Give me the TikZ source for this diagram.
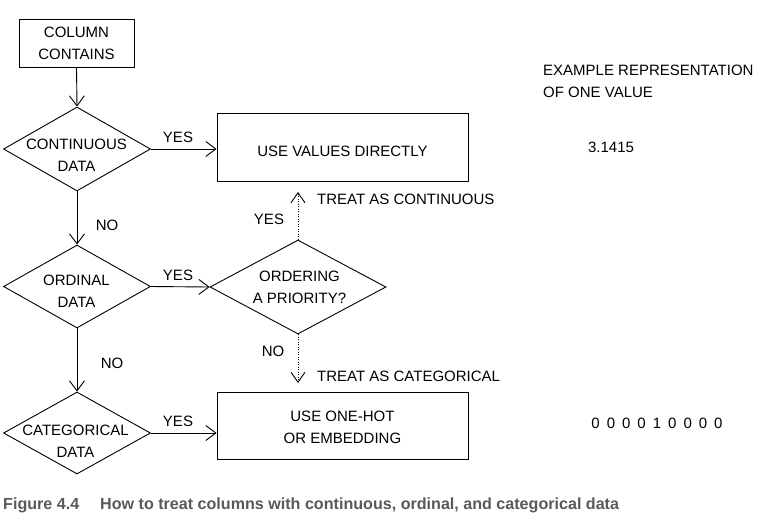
\documentclass[tikz,border=0pt]{standalone}
\usepackage{fontspec}
\setmainfont{Liberation Sans}
\usetikzlibrary{shapes.geometric,arrows.meta,calc}
\definecolor{capgray}{HTML}{58595B}
\newcommand{\zgap}{\hspace{7pt}}
\begin{document}
\begin{tikzpicture}[x=1pt,y=-1pt,
  hand/.style={font=\fontsize{15}{22}\selectfont, inner sep=0pt, align=center, text=black},
  boxnode/.style={draw, line width=0.9pt, inner sep=0pt},
  dnode/.style={draw, shape=diamond, line width=0.9pt, inner sep=0pt},
  conn/.style={line width=0.9pt, -{Straight Barb[length=10pt,width=15pt,line width=0.9pt]}},
  dconn/.style={line width=1pt, dash pattern=on 1pt off 1.5pt, -{Straight Barb[length=10pt,width=14pt,line width=0.9pt,sep=0pt]}},
  capnode/.style={font=\bfseries\fontsize{16.1}{18}\selectfont, text=capgray, inner sep=0pt, anchor=west}
]
\useasboundingbox (0,0) rectangle (772,523);
% boxes
\node[boxnode, minimum width=115pt, minimum height=48pt] (col) at (76.5,43) {};
\node[hand] (colt) at (76.5,43) {COLUMN\\CONTAINS};
\node[boxnode, minimum width=251pt, minimum height=68pt] (b1) at (342.5,147) {};
\node[hand] (b1t) at (342.5,151.5) {USE VALUES DIRECTLY};
\node[boxnode, minimum width=251pt, minimum height=67pt] (b2) at (342.5,425.5) {};
\node[hand] (b2t) at (342.5,427) {USE ONE-HOT\\OR EMBEDDING};
% diamonds
\node[dnode, minimum width=147pt, minimum height=84pt] (d1) at (77,149) {};
\node[hand] (d1t) at (76.5,155.5) {CONTINUOUS\\DATA};
\node[dnode, minimum width=147pt, minimum height=83pt] (d2) at (77,286.5) {};
\node[hand] (d2t) at (76.5,291) {ORDINAL\\DATA};
\node[dnode, minimum width=147pt, minimum height=82pt] (d4) at (77,433) {};
\node[hand] (d4t) at (75.5,441) {CATEGORICAL\\DATA};
\node[dnode, minimum width=176pt, minimum height=94pt] (d3) at (298,287) {};
\node[hand] (d3t) at (299.5,287) {ORDERING\\A PRIORITY?};
% connectors
\draw[conn] (col.south) -- (d1.north);
\draw[conn] (d1.east) -- (d1.east -| b1.west);
\draw[conn] (d1.south) -- (d2.north);
\draw[conn] (d2.east) -- (d3.west);
\draw[conn] (d2.south) -- (d4.north);
\draw[conn] (d4.east) -- (d4.east -| b2.west);
\coordinate (up) at (298,192);
\coordinate (dn) at (298,383);
\draw[dconn] (d3.north) -- (up);
\draw[dconn] (d3.south) -- (dn);
% labels
\node[hand] (y1) at (178,137.5) {YES};
\node[hand] (y2) at (178,275) {YES};
\node[hand] (y3) at (178,421) {YES};
\node[hand] (n1) at (107,225) {NO};
\node[hand] (n2) at (112,363) {NO};
\node[hand] (y4) at (269,219) {YES};
\node[hand] (n3) at (273,351) {NO};
\node[hand, anchor=west] (tc) at (317,199) {TREAT AS CONTINUOUS};
\node[hand, anchor=west] (tk) at (317,376) {TREAT AS CATEGORICAL};
\node[hand, anchor=west, align=left] (ex) at (543,81.5) {EXAMPLE REPRESENTATION\\OF ONE VALUE};
\node[hand] (pi) at (611,147.5) {3.1415};
\node[hand] (oh) at (657,423) {0\zgap0\zgap0\zgap0\zgap1\zgap0\zgap0\zgap0\zgap0};
% caption
\node[capnode] (cap1) at (3,505) {Figure 4.4};
\node[capnode] (cap2) at (100,505) {How to treat columns with continuous, ordinal, and categorical data};
\end{tikzpicture}
\end{document}
